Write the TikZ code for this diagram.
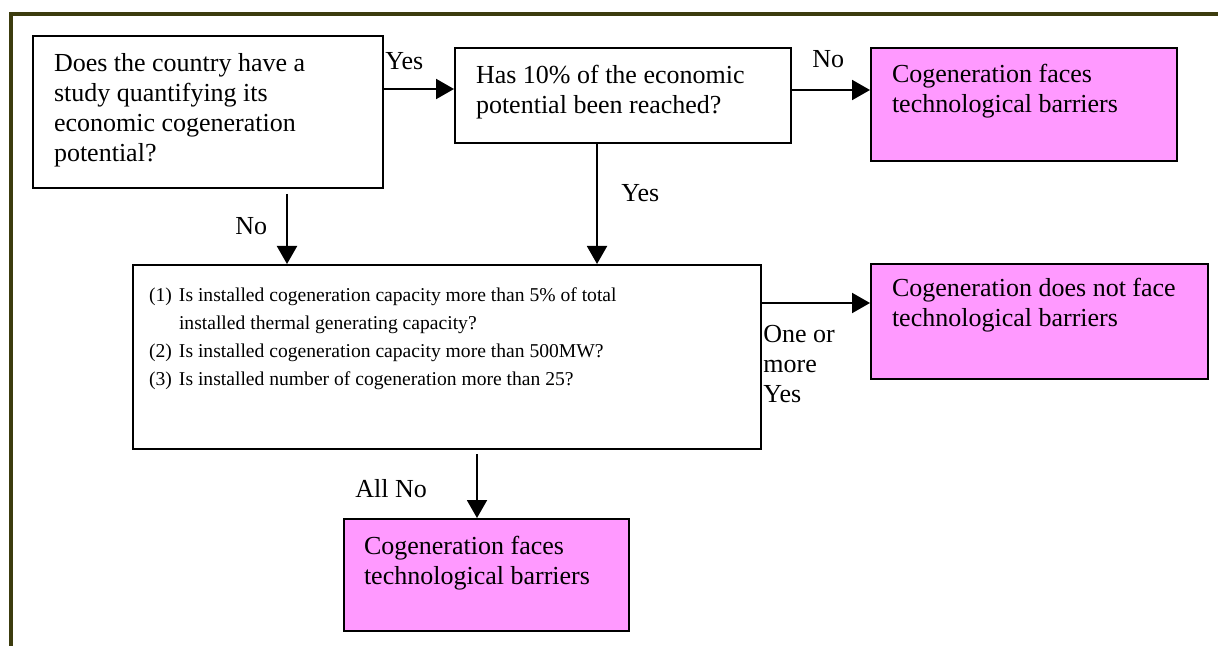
\documentclass[tikz,border=0pt]{standalone}
\usepackage{fontspec}
\setmainfont{Liberation Serif}
\usepackage{xcolor}
\usetikzlibrary{arrows.meta}

\definecolor{framecol}{RGB}{60,60,14}
\definecolor{pinkbox}{HTML}{FF99FF}

% box text: width, height, gap above first line, text
\newcommand{\boxbody}[4]{\parbox[c][#2][t]{#1}{\raggedright\vspace*{#3}\strut #4}}

\begin{document}
\begin{tikzpicture}[x=0.5pt, y=-0.5pt,
    qbox/.style={draw, line width=1pt, fill=white, anchor=north west,
                 inner xsep=10.5pt, inner ysep=0pt,
                 font=\fontsize{13}{15}\selectfont},
    endbox/.style={qbox, fill=pinkbox},
    lbl/.style={anchor=base west, inner sep=0pt, font=\fontsize{13}{15}\selectfont},
    arr/.style={-{Triangle[length=9pt,width=10pt]}, line width=1pt},
    frame/.style={framecol, line width=2pt}]
                \useasboundingbox (0,0) rectangle (1218,646);

                %% frame
                \draw[frame] (11,646) -- (11,14) -- (1218,14);

                %% questions
                \node[qbox] (study) at (32,35)
                    {\boxbody{154pt}{76pt}{7.5pt}{Does the country have a\\study quantifying its\\economic cogeneration\\potential?}};
                \node[qbox] (reached) at (454,47)
                    {\boxbody{147pt}{47.5pt}{7.5pt}{Has 10\% of the economic\\potential been reached?}};
                \node[qbox, inner xsep=8pt, font=\fontsize{9.8}{14}\selectfont] (checks) at (132,264)
                    {\boxbody{298pt}{92pt}{8.5pt}{%
                     \makebox[15pt][l]{(1)}Is installed cogeneration capacity more than 5\% of total\\
                     \hspace*{15pt}installed thermal generating capacity?\\
                     \makebox[15pt][l]{(2)}Is installed cogeneration capacity more than 500MW?\\
                     \makebox[15pt][l]{(3)}Is installed number of cogeneration more than 25?}};

                %% results
                \node[endbox] (barrier1) at (870,47)
                    {\boxbody{132pt}{56.5pt}{7pt}{Cogeneration faces\\technological barriers}};
                \node[endbox] (nobarrier) at (870,263)
                    {\boxbody{147.5pt}{57.5pt}{5.5pt}{Cogeneration does not face\\technological barriers}};
                \node[endbox, inner xsep=10pt] (barrier2) at (343,518)
                    {\boxbody{122.5pt}{56pt}{7pt}{Cogeneration faces\\technological barriers}};

                %% arrows
                % Yes
                \coordinate (ab) at ([yshift=-21pt]reached.north west);
                \draw[arr] (study.east |- ab) -- (ab);
                % No
                \coordinate (bc) at ([yshift=-21.5pt]barrier1.north west);
                \draw[arr] (reached.east |- bc) -- (bc);
                % Yes down
                \coordinate (bd) at ([xshift=71.5pt]reached.south west);
                \draw[arr] (bd) -- (bd |- checks.north);
                % No down
                \coordinate (ad) at ([xshift=127.5pt,yshift=-2.5pt]study.south west);
                \draw[arr] (ad) -- (ad |- checks.north);
                % One or more Yes
                \coordinate (de) at ([yshift=-20pt]nobarrier.north west);
                \draw[arr] (checks.east |- de) -- (de);
                % All No
                \coordinate (df) at ([xshift=67pt]barrier2.north west);
                \coordinate (ds) at ([yshift=-2pt]checks.south);
                \draw[arr] (ds -| df) -- (df);

                %% labels
                \node[lbl] (yes1) at (385,70) {Yes};
                \node[lbl] (no1)  at (812,68) {No};
                \node[lbl] (yes2) at (621,202) {Yes};
                \node[lbl] (no2)  at (235,235) {No};
                \node[lbl, anchor=north west, align=left] (more) at (763,325) {One or\\more\\Yes};
                \node[lbl] (allno) at (355,497) {All No};

            \end{tikzpicture}
\end{document}
